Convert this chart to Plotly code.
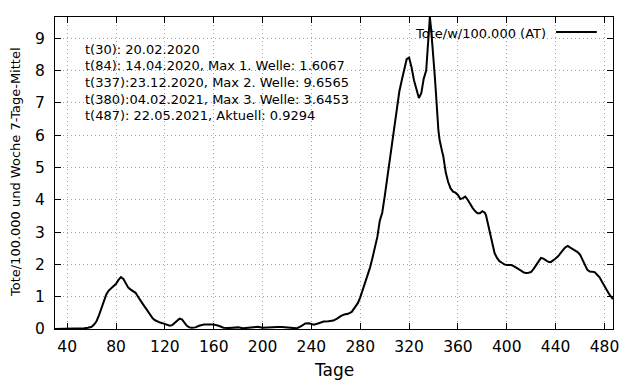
import plotly.graph_objects as go

# ---- data ----
days = [30, 40, 50, 54, 57, 60, 62, 64, 66, 68, 70, 72, 74, 76, 78, 80, 82, 84, 86, 88,
        90, 92, 94, 96, 98, 100, 102, 104, 106, 108, 110, 112, 114, 116, 118, 120, 122, 124,
        126, 128, 130, 132, 134, 136, 138, 140, 142, 145, 148, 152, 156, 160, 164, 168, 172,
        176, 180, 184, 188, 192, 196, 200, 204, 208, 212, 216, 220, 224, 228, 232, 235, 238,
        242, 246, 250, 254, 258, 261, 264, 267, 270, 273, 276, 278, 280, 282, 284, 286, 288,
        290, 292, 294, 296, 298, 300, 302, 304, 306, 308, 310, 312, 314, 316, 318, 320, 322,
        324, 326, 328, 330, 332, 334, 335, 336, 337, 338, 339, 340, 341, 342, 343, 344, 345,
        346, 347, 348, 350, 352, 354, 356, 358, 360, 362, 364, 366, 368, 370, 372, 374, 376,
        378, 380, 382, 383, 384, 386, 388, 390, 392, 394, 396, 398, 400, 402, 404, 406, 408,
        410, 412, 414, 416, 418, 420, 422, 424, 426, 428, 430, 432, 434, 436, 438, 440, 442,
        444, 446, 448, 450, 452, 454, 456, 458, 460, 462, 464, 466, 468, 470, 472, 474, 476,
        478, 480, 482, 484, 486, 487]
deaths = [0.0, 0.0, 0.01, 0.02, 0.04, 0.07, 0.14, 0.24, 0.42, 0.64, 0.88, 1.07, 1.19, 1.26,
          1.31, 1.4, 1.52, 1.6067, 1.55, 1.42, 1.28, 1.22, 1.18, 1.12, 1.0, 0.87, 0.77, 0.66,
          0.54, 0.42, 0.33, 0.27, 0.23, 0.2, 0.18, 0.15, 0.12, 0.1, 0.12, 0.19, 0.26, 0.32,
          0.3, 0.2, 0.1, 0.05, 0.04, 0.05, 0.1, 0.14, 0.13, 0.14, 0.1, 0.04, 0.03, 0.05, 0.05,
          0.02, 0.03, 0.06, 0.07, 0.04, 0.05, 0.07, 0.06, 0.06, 0.05, 0.03, 0.02, 0.1, 0.17,
          0.18, 0.13, 0.18, 0.23, 0.24, 0.26, 0.32, 0.4, 0.45, 0.47, 0.53, 0.68, 0.8, 0.98, 1.2,
          1.45, 1.7, 1.9, 2.2, 2.5, 2.85, 3.35, 3.6, 4.1, 4.65, 5.2, 5.8, 6.35, 6.95, 7.35, 7.7,
          8.05, 8.35, 8.4, 8.1, 7.7, 7.4, 7.15, 7.3, 7.75, 8.0, 8.6, 9.2, 9.6565, 9.3, 8.7, 8.2,
          7.85, 7.3, 6.6, 6.15, 5.85, 5.6, 5.5, 5.35, 4.85, 4.55, 4.35, 4.25, 4.22, 4.15, 4.02,
          4.05, 4.1, 4.0, 3.85, 3.75, 3.65, 3.58, 3.58, 3.6453, 3.6, 3.52, 3.35, 3.0, 2.65,
          2.35, 2.2, 2.1, 2.05, 2.0, 1.98, 1.97, 1.98, 1.94, 1.9, 1.85, 1.8, 1.75, 1.73, 1.74,
          1.77, 1.86, 1.98, 2.1, 2.2, 2.18, 2.12, 2.08, 2.07, 2.12, 2.18, 2.25, 2.33, 2.44, 2.53,
          2.57, 2.52, 2.47, 2.42, 2.38, 2.3, 2.13, 1.95, 1.83, 1.78, 1.77, 1.76, 1.68, 1.6, 1.46,
          1.32, 1.18, 1.07, 0.97, 0.9294]

x_ticks = [40, 80, 120, 160, 200, 240, 280, 320, 360, 400, 440, 480]
y_ticks = [0, 1, 2, 3, 4, 5, 6, 7, 8, 9]
info_lines = [
    "t(30): 20.02.2020",
    "t(84): 14.04.2020, Max 1. Welle: 1.6067",
    "t(337):23.12.2020, Max 2. Welle: 9.6565",
    "t(380):04.02.2021, Max 3. Welle: 3.6453",
    "t(487): 22.05.2021, Aktuell: 0.9294",
]
series_name = "Tote/w/100.000 (AT)"
x_title = "Tage"
y_title = "Tote/100.000 und Woche 7-Tage-Mittel"

FONT = "DejaVu Sans"

fig = go.Figure()
fig.add_trace(go.Scatter(x=days, y=deaths, mode="lines", name=series_name,
                         line=dict(color="black", width=2), showlegend=False))

axis_common = dict(showline=True, linecolor="black", linewidth=1, mirror="ticks",
                   ticks="inside", ticklen=6, tickcolor="black", tickwidth=1,
                   showgrid=True, gridcolor="#a0a0a0", gridwidth=1, griddash="1px,3px",
                   zeroline=False, tickfont=dict(family=FONT, size=15.5, color="black"))

fig.update_xaxes(range=[30, 487], tickvals=x_ticks, ticklabelstandoff=3, **axis_common)
fig.update_yaxes(range=[0, 9.6565], tickvals=y_ticks, ticklabelstandoff=6, **axis_common)

# opaque key box, key text and key line sample
fig.add_shape(type="rect", xref="paper", yref="paper", x0=0.595, x1=1.0, y0=0.926, y1=1.0,
              fillcolor="white", line=dict(width=0), layer="between")
fig.add_shape(type="line", xref="paper", yref="paper", x0=0.898, x1=0.971, y0=0.952, y1=0.952,
              line=dict(color="black", width=2))
fig.add_annotation(text=series_name, xref="paper", yref="paper", x=0.883, y=0.9487,
                   xanchor="right", yanchor="middle", showarrow=False,
                   font=dict(family=FONT, size=13, color="black"))

info_y = [0.8965, 0.843, 0.789, 0.736, 0.683]
for txt, yy in zip(info_lines, info_y):
    fig.add_annotation(text=txt, xref="paper", yref="paper", x=0.0507, y=yy,
                       xanchor="left", yanchor="middle", showarrow=False,
                       font=dict(family=FONT, size=13, color="black"))

fig.add_annotation(text=x_title, xref="paper", yref="paper", x=0.5, y=-0.131,
                   xanchor="center", yanchor="middle", showarrow=False,
                   font=dict(family=FONT, size=17, color="black"))
fig.add_annotation(text=y_title, xref="paper", yref="paper", x=-0.0717, y=0.503,
                   xanchor="center", yanchor="middle", showarrow=False, textangle=-90,
                   font=dict(family=FONT, size=13, color="black"))

# page body has an 8px margin; size the figure so it ends at the window edge
fig.update_layout(width=632, height=376, margin=dict(l=47, r=27, t=9, b=55),
                  plot_bgcolor="white", paper_bgcolor="white",
                  font=dict(family=FONT, color="black"))

fig.write_html("out.html")
